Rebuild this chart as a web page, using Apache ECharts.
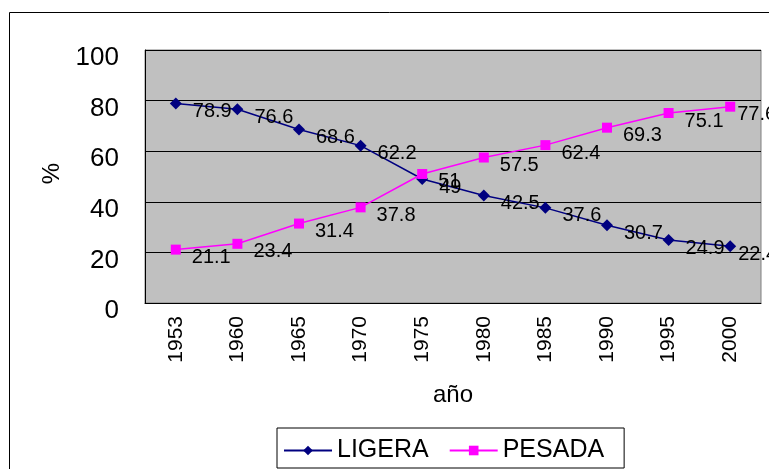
<!DOCTYPE html>
<html><head><meta charset="utf-8">
<script src="https://cdn.jsdelivr.net/npm/echarts@6/dist/echarts.min.js"></script>
<style>html,body{margin:0;padding:0;background:#fff}#c{width:769px;height:469px}</style>
</head><body><div id="c"></div>
<script>
const categories = ['1953','1960','1965','1970','1975','1980','1985','1990','1995','2000'];
const ligera = [78.9, 76.6, 68.6, 62.2, 49, 42.5, 37.6, 30.7, 24.9, 22.4];
const pesada = [21.1, 23.4, 31.4, 37.8, 51, 57.5, 62.4, 69.3, 75.1, 77.6];
const yTicks = [0, 20, 40, 60, 80, 100];

const FONT = '"Liberation Sans", Arial, sans-serif';
const chart = echarts.init(document.getElementById('c'));
const lbl = {show: true, position: 'right', offset: [6, 8], color: '#000', fontSize: 20, fontFamily: FONT};
// last label sits closer to its point (as in the original)
const withLast = arr => arr.map((v, i) => i === arr.length - 1 ? {value: v, label: {offset: [-3, 8]}} : v);
chart.setOption({
  animation: false,
  textStyle: {fontFamily: FONT},
  graphic: [{type: 'rect', shape: {x: 9.5, y: 12.5, width: 800, height: 500}, style: {fill: 'none', stroke: '#000', lineWidth: 1}, z: -10}],
  grid: {left: 145, top: 50, right: 8, bottom: 166, show: true, backgroundColor: '#C0C0C0', borderColor: '#808080', borderWidth: 1},
  legend: {
    top: 428, left: 277, itemWidth: 48, itemHeight: 12, itemGap: 20,
    borderColor: '#000', borderWidth: 1, padding: [10, 20, 5, 6],
    textStyle: {fontSize: 25, color: '#000', fontFamily: FONT},
    data: ['LIGERA', 'PESADA']
  },
  xAxis: {
    type: 'category', data: categories, boundaryGap: true,
    name: 'año', nameLocation: 'middle', nameGap: 80,
    nameTextStyle: {fontSize: 24, color: '#000', fontFamily: FONT},
    axisLine: {lineStyle: {color: '#000', width: 1}},
    axisTick: {inside: true, length: 8, lineStyle: {color: '#000'}},
    axisLabel: {rotate: 90, fontSize: 21, color: '#000', margin: 13, fontFamily: FONT}
  },
  yAxis: {
    type: 'value', min: yTicks[0], max: yTicks[yTicks.length - 1], interval: 20,
    name: '%', nameLocation: 'middle', nameGap: 80, nameRotate: 90,
    nameTextStyle: {fontSize: 24, color: '#000', fontFamily: FONT, padding: [0, 0, 0, 6]},
    axisLine: {show: true, lineStyle: {color: '#000', width: 1}},
    axisTick: {show: true, inside: true, length: 8, lineStyle: {color: '#000'}},
    axisLabel: {fontSize: 26, color: '#000', margin: 26, fontFamily: FONT, verticalAlign: 'top', lineHeight: 16},
    splitLine: {show: true, lineStyle: {color: '#000', width: 1}}
  },
  series: [
    {name: 'LIGERA', type: 'line', data: withLast(ligera), symbol: 'diamond', symbolSize: 12,
     itemStyle: {color: '#000080'}, lineStyle: {color: '#000080', width: 1.5}, label: lbl},
    {name: 'PESADA', type: 'line', data: withLast(pesada), symbol: 'rect', symbolSize: 10,
     itemStyle: {color: '#FF00FF'}, lineStyle: {color: '#FF00FF', width: 1.5}, label: lbl}
  ]
});
</script></body></html>
